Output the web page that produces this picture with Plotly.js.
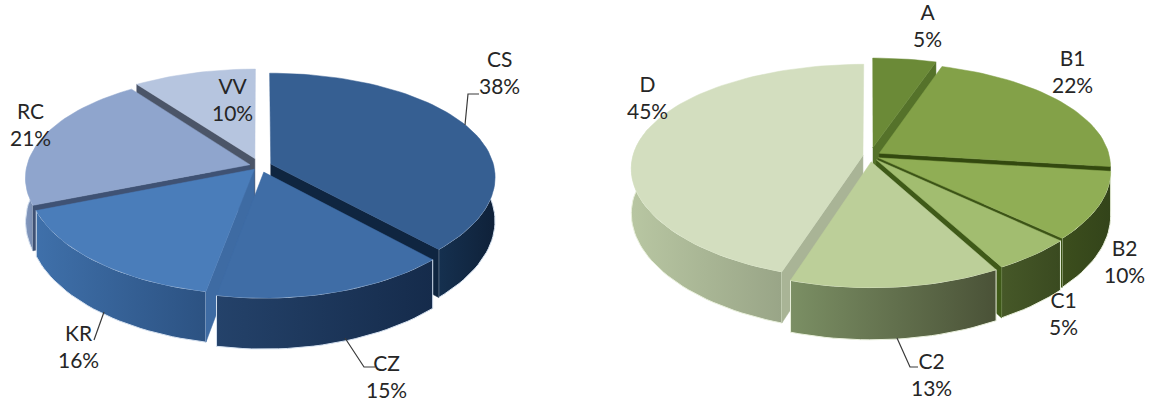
<!DOCTYPE html>
<html>
<head>
<meta charset="utf-8">
<script src="https://cdn.plot.ly/plotly-3.0.1.min.js"></script>
<style>html,body{margin:0;padding:0;background:#fff}#chart{width:1154px;height:401px}</style>
</head>
<body>
<div id="chart"></div>
<script>
// Shares per category, clockwise from twelve o'clock
const leftLabels = ['CS', 'CZ', 'KR', 'RC', 'VV'];
const leftValues = [38, 15, 16, 21, 10];
const rightLabels = ['A', 'B1', 'B2', 'C1', 'C2', 'D'];
const rightValues = [5, 22, 10, 5, 13, 45];

// Slice styling: pull-out distance, top colour, rim gradient, cut-face colour
const leftStyle = [
  {pull: .052, top: '#365f92', rim: ['#15304f', '#0f2139'], face: '#0f2540'},
  {pull: .06,  top: '#3f6da6', rim: ['#24426a', '#152b4b'], face: '#2a4d78'},
  {pull: .04,  top: '#4a7dba', rim: ['#3f70aa', '#2c5282'], face: '#3e6ba3'},
  {pull: .047, top: '#8fa5cd', rim: ['#8297bd', '#6d82a6'], face: '#3f5274'},
  {pull: .075, top: '#b6c5df', rim: ['#9aa9c2', '#8a98b0'], face: '#4b5568'}
];
const rightStyle = [
  {pull: .085, top: '#6b8a37', rim: ['#4d6426', '#4d6426'], face: '#55722a'},
  {pull: .048, top: '#83a148', rim: ['#5d7432', '#5d7432'], face: '#33490f'},
  {pull: .04,  top: '#90ae55', rim: ['#3c4e1d', '#33441a'], face: '#3c5416'},
  {pull: .045, top: '#a2bd70', rim: ['#465828', '#3a4a20'], face: '#3f5a18'},
  {pull: .055, top: '#bccf99', rim: ['#7b8f64', '#4a5237'], face: '#a8b68f'},
  {pull: .031, top: '#d3debf', rim: ['#b8c6a2', '#99a587'], face: '#a9b496'}
];

// Label anchors and leader polylines in pixel space
const leftText = [[499, 72], [386, 376], [78, 346], [30, 124], [232, 99]];
const rightText = [[927, 25], [1072, 71], [1124, 261], [1063, 313], [931, 374], [647, 97]];
const leftLeaders = [
  [[465, 125], [468, 94], [479, 94]],
  [[345, 338], [364, 367], [375, 367]],
  [[104, 312], [94, 340]]
];
const rightLeaders = [
  [[897, 338], [910, 367], [918, 367]]
];

const pieLeft = {cx: 260, cy: 166, rx: 223, ry: 105, depth: 43, tiltX: .12, tiltY: .15, edge: '#d5e1f0'};
const pieRight = {cx: 870, cy: 156, rx: 230, ry: 105, depth: 44, tiltX: .12, tiltY: .15, edge: '#e9f0dc'};

const RAD = Math.PI / 180;
const traces = [];

function point(pie, pull, mid, r, deg, drop) {
  const u = pull * Math.sin(mid * RAD) + r * Math.sin(deg * RAD);
  const v = -pull * Math.cos(mid * RAD) - r * Math.cos(deg * RAD);
  const sx = 1 / (1 - pie.tiltX * v);
  const sy = 1 / (1 - pie.tiltY * v);
  return [pie.cx + pie.rx * u * sx, pie.cy + pie.ry * v * sy + (drop ? pie.depth * sy : 0)];
}

function addPoly(pts, fill, gradient, lineColor) {
  const t = {
    type: 'scatter', mode: 'lines', hoverinfo: 'skip', showlegend: false,
    x: pts.map(p => p[0]), y: pts.map(p => p[1]),
    fill: 'toself', fillcolor: fill,
    line: {color: lineColor || fill, width: lineColor ? 1 : 0.5}
  };
  if (gradient) {
    t.fillgradient = {type: 'horizontal', colorscale: [[0, gradient[0]], [1, gradient[1]]]};
  }
  traces.push(t);
}

function arc(from, to) {
  const out = [];
  const n = Math.max(2, Math.ceil(Math.abs(to - from) / 2));
  for (let i = 0; i <= n; i++) out.push(from + (to - from) * i / n);
  return out;
}

function drawPie(pie, values, styles, order) {
  const total = values.reduce((a, b) => a + b, 0);
  let acc = 0;
  const spans = values.map(v => {
    const a0 = acc / total * 360;
    acc += v;
    return [a0, acc / total * 360];
  });
  order.forEach(i => {
    const [a0, a1] = spans[i];
    const st = styles[i];
    const mid = (a0 + a1) / 2;
    const P = (r, deg, drop) => point(pie, st.pull, mid, r, deg, drop);

    // outer rim, front half only
    const lo = Math.max(a0, 75), hi = Math.min(a1, 285);
    if (hi > lo) {
      const angles = arc(lo, hi);
      const rim = angles.map(d => P(1, d, false))
        .concat(angles.slice().reverse().map(d => P(1, d, true)));
      rim.push(rim[0]);
      addPoly(rim, st.rim[0], st.rim, pie.edge);
    }
    // radial cut faces that look toward the viewer
    if (Math.sin(a1 * RAD) > 0.001) {
      addPoly([P(0, a1, false), P(1, a1, false), P(1, a1, true), P(0, a1, true), P(0, a1, false)], st.face);
    }
    if (Math.sin(a0 * RAD) < -0.001) {
      addPoly([P(0, a0, false), P(1, a0, false), P(1, a0, true), P(0, a0, true), P(0, a0, false)], st.face);
    }
    // top of the slice
    const top = [P(0, a0, false)].concat(arc(a0, a1).map(d => P(1, d, false)));
    top.push(top[0]);
    addPoly(top, st.top);
  });
}

drawPie(pieLeft, leftValues, leftStyle, [4, 3, 0, 2, 1]);
drawPie(pieRight, rightValues, rightStyle, [5, 0, 1, 2, 3, 4]);

function addLeaders(list) {
  list.forEach(seg => traces.push({
    type: 'scatter', mode: 'lines', hoverinfo: 'skip', showlegend: false,
    x: seg.map(p => p[0]), y: seg.map(p => p[1]),
    line: {color: '#3a3a3a', width: 1.2}
  }));
}
addLeaders(leftLeaders);
addLeaders(rightLeaders);

function labels(names, values, anchors) {
  return names.map((n, i) => ({
    x: anchors[i][0], y: anchors[i][1], xref: 'x', yref: 'y',
    text: n + '<br>' + values[i] + '%', showarrow: false,
    xanchor: 'center', yanchor: 'middle', align: 'center',
    font: {family: 'Lato, "Open Sans", sans-serif', size: 21, color: '#262626'}
  }));
}

const layout = {
  width: 1154, height: 401,
  margin: {l: 0, r: 0, t: 0, b: 0},
  paper_bgcolor: '#ffffff', plot_bgcolor: '#ffffff',
  showlegend: false,
  xaxis: {range: [0, 1154], visible: false, fixedrange: true},
  yaxis: {range: [401, 0], visible: false, fixedrange: true},
  annotations: labels(leftLabels, leftValues, leftText).concat(labels(rightLabels, rightValues, rightText))
};

Plotly.newPlot('chart', traces, layout, {displayModeBar: false, staticPlot: true});
</script>
</body>
</html>
